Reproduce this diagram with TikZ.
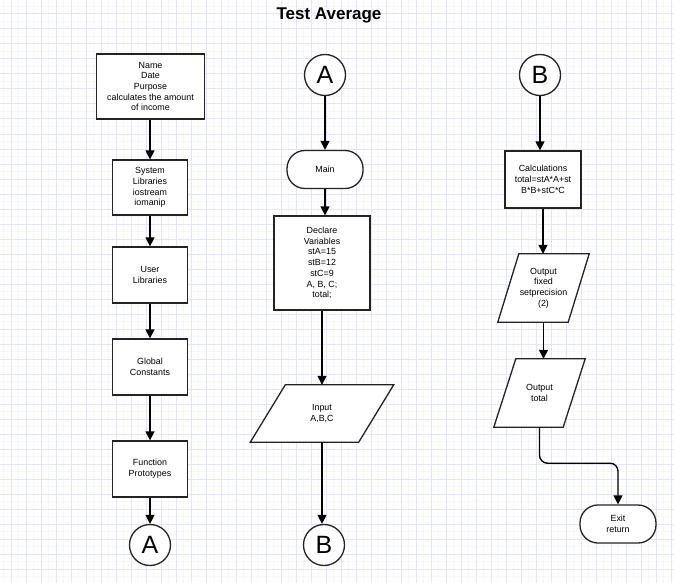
\documentclass[tikz,border=0pt]{standalone}
\usepackage{fontspec}
\setmainfont{Liberation Sans}
\usetikzlibrary{arrows.meta,calc}
\pgfdeclarelayer{gridlayer}
\pgfdeclarelayer{shapelayer}
\pgfsetlayers{gridlayer,shapelayer,main}
\definecolor{gridmaj}{RGB}{229,229,250}
\definecolor{gridmin}{RGB}{246,246,253}
\definecolor{edgecol}{RGB}{35,35,35}
\tikzset{
  txt/.style={font=\fontsize{8.9}{10.7}\selectfont, align=center},
  procbox/.style 2 args={draw=edgecol, line width=1.3pt, fill=white, txt, inner sep=0pt,
     minimum width=#1, minimum height=#2},
  termbox/.style={draw=edgecol, line width=1.3pt, fill=white, txt, inner sep=0pt,
     minimum width=76pt, minimum height=38pt, rounded corners=18pt},
  conn/.style={draw=edgecol, line width=1.3pt, fill=white, circle, minimum size=41pt, inner sep=0pt,
     font=\fontsize{25}{25}\selectfont},
  paranode/.style 2 args={draw=none, txt, inner sep=0pt, minimum width=#1, minimum height=#2},
  paraline/.style={draw=edgecol, line width=1.3pt, fill=white},
  arr/.style={draw=black, line width=1.4pt, -{Triangle[length=9pt,width=9pt]}},
  gridline/.style={draw=gridmaj, line width=1pt},
  gridfine/.style={draw=gridmin, line width=0.8pt},
}
\begin{document}
\begin{tikzpicture}[x=1pt,y=-1pt]
\useasboundingbox (0,0) rectangle (674,583);
\begin{pgfonlayer}{gridlayer}
  \fill[white] (0,0) rectangle (674,583);
  \foreach \x in {3.5,18.5,...,671} \draw[gridfine] (\x,0) -- (\x,583);
  \foreach \y in {6.5,21.5,...,583} \draw[gridfine] (0,\y) -- (674,\y);
  \foreach \x in {11,26,...,674} \draw[gridline] (\x,0) -- (\x,583);
  \foreach \y in {14,29,...,583} \draw[gridline] (0,\y) -- (674,\y);
\end{pgfonlayer}

\node[font=\fontsize{17}{20}\selectfont\bfseries] (title) at (329,15) {Test Average};

% left column
\node[procbox={108pt}{65pt}] (hdr) at (150.5,86.5) {Name\\Date\\Purpose\\calculates the amount\\of income};
\node[procbox={75pt}{55pt}] (syslib) at (150,187.5) {System\\Libraries\\iostream\\iomanip};
\node[procbox={75pt}{56pt}] (usrlib) at (150,275) {User\\Libraries};
\node[procbox={75pt}{56pt}] (glob) at (150,367) {Global\\Constants};
\node[procbox={75pt}{56pt}] (proto) at (150,469) {Function\\Prototypes};
\node[conn] (ca1) at (150,545) {A};

\draw[arr] (hdr.south -| syslib) -- (syslib.north);
\draw[arr] (syslib) -- (usrlib);
\draw[arr] (usrlib) -- (glob);
\draw[arr] (glob) -- (proto);
\draw[arr] (proto) -- (ca1);

% middle column
\node[conn] (ca2) at (325,75) {A};
\node[termbox] (mainnode) at (325,169.5) {Main};
\node[procbox={96pt}{94pt}] (decl) at (322,263) {Declare\\Variables\\stA=15\\stB=12\\stC=9\\A, B, C;\\total;};
\node[paranode={108pt}{57pt}] (inp) at (322,413.5) {Input\\A,B,C};
\node[conn] (cb1) at (324,545) {B};

\draw[arr] (ca2) -- (mainnode);
\draw[arr] (mainnode.south) -- (mainnode.south |- decl.north);
\draw[arr] (decl.south) -- (inp.north);
\draw[arr] (inp.south) -- (inp.south |- cb1.north);

% right column
\node[conn] (cb2) at (540,75) {B};
\node[procbox={76pt}{57pt}] (calc) at (543,179.5) {Calculations\\total=stA*A+st\\B*B+stC*C};
\node[paranode={70pt}{68pt}] (out1) at (543.5,288) {Output\\fixed\\setprecision\\(2)};
\node[paranode={69pt}{68pt}] (out2) at (539.5,393) {Output\\total};
\node[termbox] (exitnode) at (618,524) {Exit\\return};

\begin{pgfonlayer}{shapelayer}
  \draw[paraline] ([xshift=-17.5pt]inp.south west) -- ([xshift=-17.5pt]inp.south east)
     -- ([xshift=17.5pt]inp.north east) -- ([xshift=17.5pt]inp.north west) -- cycle;
  \draw[paraline] ([xshift=-10.5pt]out1.south west) -- ([xshift=-10.5pt]out1.south east)
     -- ([xshift=10.5pt]out1.north east) -- ([xshift=10.5pt]out1.north west) -- cycle;
  \draw[paraline] ([xshift=-11pt]out2.south west) -- ([xshift=-11pt]out2.south east)
     -- ([xshift=11pt]out2.north east) -- ([xshift=11pt]out2.north west) -- cycle;
\end{pgfonlayer}

\draw[arr] (cb2) -- (cb2 |- calc.north);
\draw[arr] (calc.south) -- (calc.south |- out1.north);
\draw[arr] (out1.south) -- (out1.south |- out2.north);
\draw[arr, rounded corners=8pt] (out2.south) -- ++(0,36) -| (exitnode.north);
\end{tikzpicture}
\end{document}
